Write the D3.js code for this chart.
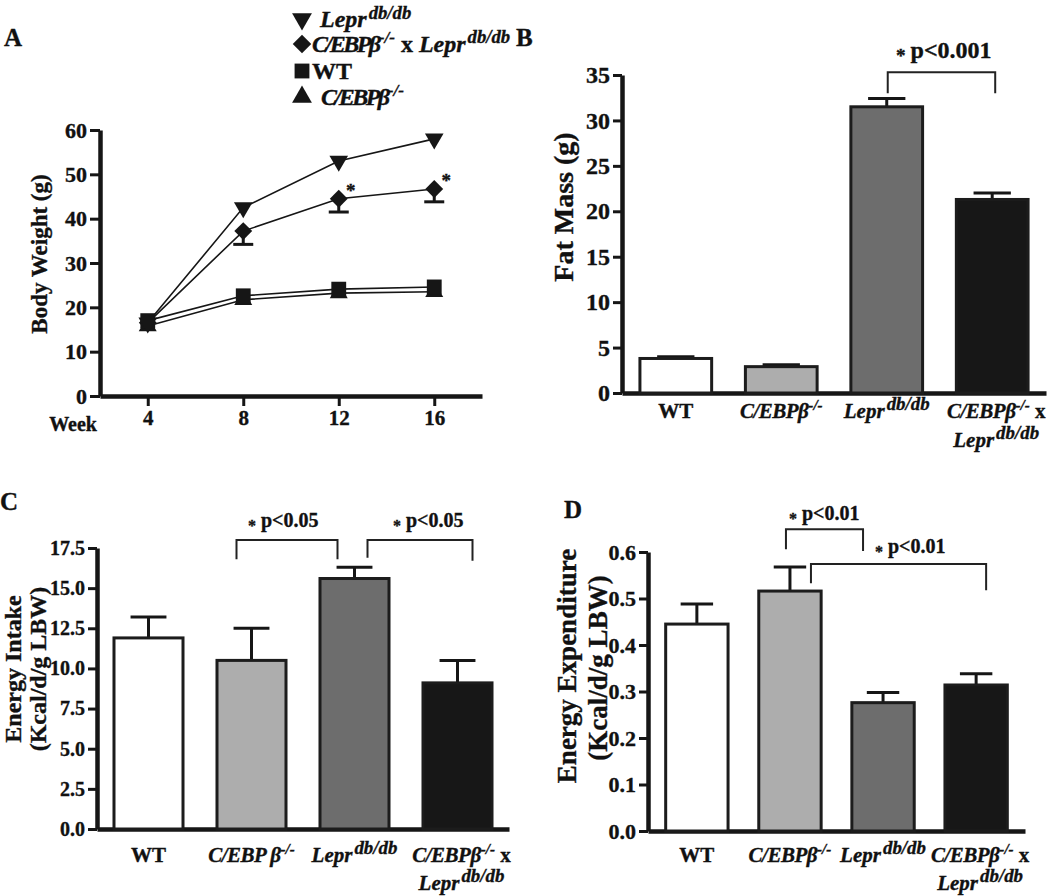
<!DOCTYPE html>
<html><head><meta charset="utf-8">
<script src="https://cdn.jsdelivr.net/npm/d3@7"></script>
<style>
body{margin:0;background:#fff}
svg{display:block}
text{font-family:"Liberation Serif","Times New Roman",serif;font-weight:bold;fill:#111;stroke:#111;stroke-width:0.35px}
</style>
</head><body>
<svg id="chart" width="1050" height="896"></svg>
<script>
// ---------------- DATA ----------------
const weeks = [4, 8, 12, 16];
const bwLepr = [16.5, 42.5, 53.0, 58.0];
const bwDko = [16.5, 37.2, 44.5, 46.7];
const bwDkoErr = [0, 3.0, 3.0, 2.9];
const bwWT = [17.0, 22.6, 24.1, 24.6];
const bwCebp = [15.8, 21.7, 23.2, 23.5];
const bwTicks = [0, 10, 20, 30, 40, 50, 60];

const genotypes = ["WT", "C/EBPβ-/-", "Lepr db/db", "C/EBPβ-/- x Lepr db/db"];
const fatMass = [3.8, 2.9, 31.5, 21.3];
const fatMassErr = [0.2, 0.2, 0.9, 0.7];
const fatTicks = [0, 5, 10, 15, 20, 25, 30, 35];

const intake = [11.9, 10.5, 15.6, 9.1];
const intakeErr = [1.3, 2.0, 0.7, 1.4];
const intakeTicks = [0, 2.5, 5, 7.5, 10, 12.5, 15, 17.5];

const expend = [0.445, 0.516, 0.276, 0.314];
const expendErr = [0.043, 0.052, 0.022, 0.024];
const expendTicks = [0, 0.1, 0.2, 0.3, 0.4, 0.5, 0.6];

const barFills = ["#ffffff", "#adadad", "#6d6d6d", "#171717"];

// ---------------- HELPERS ----------------
const svg = d3.select("#chart");
const INK = "#161616";

function rich(parent, x, y, segs, size, anchor) {
  const t = parent.append("text").attr("x", x).attr("y", y)
    .attr("text-anchor", anchor || "middle").style("font-size", size + "px");
  let up = 0;
  segs.forEach(s => {
    const ts = t.append("tspan").text(s.t);
    if (s.i) ts.style("font-style", "italic");
    const want = s.sup ? size * (s.rise || 0.4) : 0;
    if (want !== up) { ts.attr("dy", up - want); up = want; }
    if (s.dx) ts.attr("dx", s.dx);
    if (s.ls) ts.style("letter-spacing", s.ls + "px");
    if (s.sup) ts.style("font-size", (size * (s.ss || 0.8)) + "px");
  });
  return t;
}
const segWT = [{t: "WT"}];
const segCebp = (sp, ls) => [{t: "C/EBP" + (sp ? " " : "") + "β", i: 1, ls: ls || 0}, {t: "-/-", i: 1, sup: 1, ss: 0.72, rise: 0.38}];
const segLepr = (ss, rise) => [{t: "Lepr", i: 1}, {t: "db/db", i: 1, sup: 1, ss: ss || 0.9, rise: rise || 0.4, dx: 2}];
const labelSegsFor = (sp) => [
  [segWT],
  [segCebp(sp, -0.5)],
  [segLepr()],
  [segCebp(false, -0.5).concat([{t: " x"}]), segLepr()]
];

function styleAxis(g, size) {
  g.attr("font-family", null).attr("font-size", null);
  g.select(".domain").attr("stroke", INK).attr("stroke-width", 4.5);
  g.selectAll(".tick line").attr("stroke", INK).attr("stroke-width", 3);
  g.selectAll(".tick text").style("font-size", size + "px").attr("fill", INK);
}

// ---------------- PANEL A ----------------
(function () {
  const g = svg.append("g");
  const x = d3.scaleLinear().domain([2, 18]).range([100, 482]);
  const y = d3.scaleLinear().domain([0, 60]).range([396, 130]);

  g.append("text").attr("x", 4).attr("y", 46).style("font-size", "25px").text("A");

  const ya = g.append("g").attr("transform", "translate(100,0)")
    .call(d3.axisLeft(y).tickValues(bwTicks).tickSize(10).tickSizeOuter(0).tickPadding(3));
  styleAxis(ya, 22);
  const xa = g.append("g").attr("transform", "translate(0,396)")
    .call(d3.axisBottom(x).tickValues(weeks).tickSize(10).tickSizeOuter(0).tickPadding(4));
  styleAxis(xa, 21);
  g.append("text").attr("x", 97).attr("y", 431).attr("text-anchor", "end").style("font-size", "20px").text("Week");

  g.append("text").attr("transform", "translate(47,254) rotate(-90)").attr("text-anchor", "middle")
    .style("font-size", "23px").text("Body Weight (g)");

  const line = d3.line().x((d, i) => x(weeks[i])).y(d => y(d));
  const series = [
    {v: bwCebp, sym: d3.symbolTriangle, size: 140, rot: 0},
    {v: bwWT, sym: d3.symbolSquare, size: 220, rot: 0},
    {v: bwDko, sym: d3.symbolSquare, size: 160, rot: 45, err: bwDkoErr},
    {v: bwLepr, sym: d3.symbolTriangle, size: 150, rot: 180}
  ];
  series.forEach(s => {
    g.append("path").attr("d", line(s.v)).attr("fill", "none").attr("stroke", INK).attr("stroke-width", 1.6);
  });
  series.forEach(s => {
    if (s.err) {
      s.v.forEach((d, i) => {
        if (!s.err[i]) return;
        const cx = x(weeks[i]);
        g.append("line").attr("x1", cx).attr("x2", cx).attr("y1", y(d)).attr("y2", y(d - s.err[i]))
          .attr("stroke", INK).attr("stroke-width", 3);
        g.append("line").attr("x1", cx - 10).attr("x2", cx + 10).attr("y1", y(d - s.err[i])).attr("y2", y(d - s.err[i]))
          .attr("stroke", INK).attr("stroke-width", 3);
      });
    }
    s.v.forEach((d, i) => {
      g.append("path").attr("d", d3.symbol().type(s.sym).size(s.size)())
        .attr("transform", `translate(${x(weeks[i])},${y(d)}) rotate(${s.rot})`).attr("fill", INK);
    });
  });
  [2, 3].forEach(i => {
    g.append("text").attr("x", x(weeks[i]) + 12).attr("y", y(bwDko[i]) - 2)
      .attr("text-anchor", "middle").style("font-size", "19px").text("*");
  });

  // legend
  const leg = [
    {sym: d3.symbolTriangle, size: 170, rot: 180, segs: segLepr(0.78, 0.33), tx: 320},
    {sym: d3.symbolSquare, size: 170, rot: 45, segs: segCebp(false, -2.5).concat([{t: " x "}], segLepr(0.78, 0.36)), tx: 312},
    {sym: d3.symbolSquare, size: 220, rot: 0, segs: segWT, tx: 312},
    {sym: d3.symbolTriangle, size: 170, rot: 0, segs: segCebp(false, -2.5), tx: 321}
  ];
  const rowsY = [27, 52, 79, 105];
  leg.forEach((l, i) => {
    g.append("path").attr("d", d3.symbol().type(l.sym).size(l.size)())
      .attr("transform", `translate(302,${rowsY[i] - 8}) rotate(${l.rot})`).attr("fill", INK);
    rich(g, l.tx, rowsY[i], l.segs, 24, "start");
  });
})();

// ---------------- BAR PANELS ----------------
function barPanel(cfg) {
  const g = svg.append("g");
  const x = d3.scaleBand().domain(genotypes).range([cfg.x0, cfg.x1])
    .paddingInner(cfg.pin).paddingOuter(cfg.pout);
  const y = d3.scaleLinear().domain([0, cfg.ymax]).range([cfg.y0, cfg.ytop]);

  g.append("text").attr("x", cfg.lab[0]).attr("y", cfg.lab[1]).style("font-size", "25px").text(cfg.letter);

  const ya = g.append("g").attr("transform", `translate(${cfg.x0},0)`)
    .call(d3.axisLeft(y).tickValues(cfg.ticks).tickSize(9).tickSizeOuter(0).tickPadding(3)
      .tickFormat(cfg.fmt ? d3.format(cfg.fmt) : d3.format("d")));
  styleAxis(ya, cfg.tickSize);
  const xa = g.append("g").attr("transform", `translate(0,${cfg.y0})`)
    .call(d3.axisBottom(x).tickSize(0).tickSizeOuter(0).tickFormat(""));
  styleAxis(xa, 10);

  cfg.title.forEach(t => {
    g.append("text").attr("transform", `translate(${t.x},${t.y}) rotate(-90)`).attr("text-anchor", "middle")
      .style("font-size", cfg.titleSize + "px").text(t.t);
  });

  const bw = x.bandwidth();
  const labelSegs = labelSegsFor(cfg.cebpSpace);
  genotypes.forEach((c, i) => {
    const v = cfg.values[i], e = cfg.errs[i];
    const cx = x(c) + bw / 2;
    g.append("line").attr("x1", cx).attr("x2", cx).attr("y1", y(v)).attr("y2", y(v + e))
      .attr("stroke", INK).attr("stroke-width", 3);
    g.append("line").attr("x1", cx - bw * 0.26).attr("x2", cx + bw * 0.26).attr("y1", y(v + e)).attr("y2", y(v + e))
      .attr("stroke", INK).attr("stroke-width", 3);
    g.append("rect").attr("x", x(c)).attr("y", y(v)).attr("width", bw).attr("height", cfg.y0 - y(v))
      .attr("fill", barFills[i]).attr("stroke", "#1c1c1c").attr("stroke-width", 3);
    labelSegs[i].forEach((segs, k) => {
      rich(g, cx + (i === 3 ? 4 : 0), cfg.labY + k * cfg.labDy, segs, cfg.labSize, "middle");
    });
  });

  cfg.brackets.forEach(b => {
    const xa_ = x(genotypes[b.a]) + bw / 2 + b.da;
    const xb_ = x(genotypes[b.b]) + bw / 2 + b.db;
    g.append("path")
      .attr("d", `M${xa_},${y(b.la)}V${y(b.top)}H${xb_}V${y(b.lb)}`)
      .attr("fill", "none").attr("stroke", "#222").attr("stroke-width", 2);
    const t = g.append("text").attr("x", b.tx).attr("y", y(b.top) + b.ty).style("font-size", cfg.sigSize + "px");
    t.append("tspan").text("*").style("font-size", (cfg.sigSize * 0.8) + "px").attr("dy", 4);
    t.append("tspan").text(b.text).attr("dx", 5).attr("dy", -4);
  });
}

barPanel({
  letter: "B", lab: [516, 46],
  x0: 622, x1: 1046, pin: 0.32, pout: 0.17, y0: 393, ytop: 75, ymax: 35,
  ticks: fatTicks, tickSize: 24, values: fatMass, errs: fatMassErr,
  title: [{t: "Fat Mass (g)", x: 573, y: 207}], titleSize: 28,
  labY: 418, labDy: 29, labSize: 21, sigSize: 24, cebpSpace: false,
  brackets: [{a: 2, b: 3, da: 1, db: 3, top: 35.3, la: 33.0, lb: 33.0, text: "p<0.001", tx: 896, ty: -14}]
});

barPanel({
  letter: "C", lab: [0, 510],
  x0: 97, x1: 509, pin: 0.33, pout: 0.165, y0: 829, ytop: 548, ymax: 17.5, fmt: ".1f",
  ticks: intakeTicks, tickSize: 20, values: intake, errs: intakeErr,
  title: [{t: "Energy Intake", x: 21, y: 669}, {t: "(Kcal/d/g LBW)", x: 46, y: 669}], titleSize: 24,
  labY: 862, labDy: 28, labSize: 21, sigSize: 20, cebpSpace: true,
  brackets: [
    {a: 1, b: 2, da: -15, db: -17, top: 18.0, la: 16.8, lb: 16.8, text: "p<0.05", tx: 248, ty: -13},
    {a: 2, b: 3, da: 13, db: 15, top: 18.0, la: 16.9, lb: 16.7, text: "p<0.05", tx: 393, ty: -13}
  ]
});

barPanel({
  letter: "D", lab: [564, 518],
  x0: 648, x1: 1025, pin: 0.33, pout: 0.19, y0: 831, ytop: 552, ymax: 0.6, fmt: ".1f",
  ticks: expendTicks, tickSize: 22, values: expend, errs: expendErr,
  title: [{t: "Energy Expenditure", x: 576, y: 666}, {t: "(Kcal/d/g LBW)", x: 607, y: 668}], titleSize: 27,
  labY: 862, labDy: 28, labSize: 21, sigSize: 20, cebpSpace: false,
  brackets: [
    {a: 1, b: 2, da: -4, db: -20, top: 0.649, la: 0.606, lb: 0.602, text: "p<0.01", tx: 789, ty: -9},
    {a: 1, b: 3, da: 21, db: 10, top: 0.574, la: 0.533, lb: 0.518, text: "p<0.01", tx: 875, ty: -11}
  ]
});
</script>
</body></html>
